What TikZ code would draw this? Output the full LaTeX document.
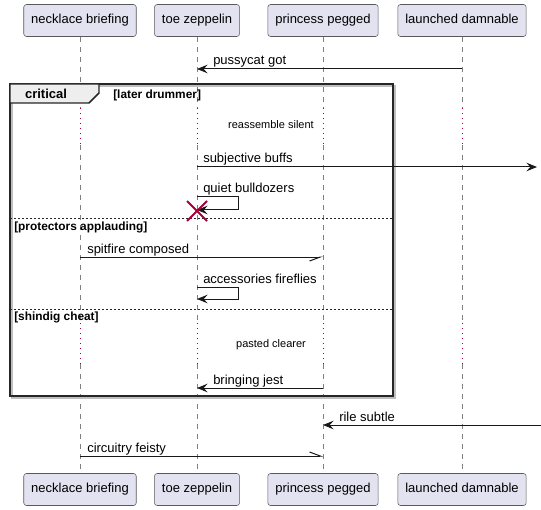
\documentclass[tikz,border=0pt]{standalone}
\usepackage{fontspec}
\setmainfont{Liberation Sans}
\usetikzlibrary{arrows.meta}

\definecolor{actorfill}{HTML}{E2E2F0}
\definecolor{delayred}{HTML}{A80036}
\definecolor{tabfill}{HTML}{EEEEEE}

\newcommand{\msgfont}{\fontsize{9.75}{11}\selectfont}
\newcommand{\smallfont}{\fontsize{8.25}{10}\selectfont}
\newcommand{\guardfont}{\fontsize{8.9}{10}\selectfont}

\tikzset{
  actor/.style={draw=black!65, fill=actorfill, rounded corners=2pt, inner xsep=5.6pt,
    text height=7.2pt, text depth=2.1pt, minimum height=24pt, font=\msgfont},
  msg/.style={draw=black!90, line width=0.75pt, -{Stealth[length=8pt, width=6.5pt, inset=3pt]}},
  halfmsg/.style={draw=black!90, line width=0.75pt, -{Straight Barb[#1, length=8pt, width=6pt]}},
  loopmsg/.style={msg, rounded corners=0pt},
  msglabel/.style={font=\msgfont, inner sep=0pt, anchor=base west},
  lifeline/.style={draw=black!50, line width=0.75pt, dash pattern=on 3.75pt off 3.75pt},
  delayline/.style={draw=delayred, line width=0.75pt, dash pattern=on 0.9pt off 2.85pt},
  frameline/.style={draw=black!85, line width=1.1pt},
  separator/.style={draw=black!85, line width=0.75pt, dash pattern=on 1.5pt off 1.5pt},
  guard/.style={font=\guardfont\bfseries, inner sep=0pt, anchor=west},
  destroy/.style={draw=delayred, line width=1.5pt},
}

\begin{document}
\begin{tikzpicture}[x=0.75pt, y=-0.75pt]
\useasboundingbox (0,0) rectangle (541,509);

% Define nodes
\path
(80,20.5) node[actor] (nb) {necklace briefing}
(197,20.5) node[actor] (tz) {toe zeppelin}
(323,20.5) node[actor] (pp) {princess pegged}
(462,20.5) node[actor] (ld) {launched damnable}
(80,489.5) node[actor] (nb-bot) {necklace briefing}
(197,489.5) node[actor] (tz-bot) {toe zeppelin}
(323,489.5) node[actor] (pp-bot) {princess pegged}
(462,489.5) node[actor] (ld-bot) {launched damnable}
;
\coordinate (east1) at (537,167);
\coordinate (east2) at (541,425);

% Lifelines, with the two delays
\foreach \p in {nb,tz,pp,ld}{
  \draw[lifeline] (\p.south) -- (\p |- 0,108);
  \draw[delayline] (\p |- 0,108) -- (\p |- 0,145);
  \draw[lifeline] (\p |- 0,145) -- (\p |- 0,323);
  \draw[delayline] (\p |- 0,323) -- (\p |- 0,364);
  \draw[lifeline] (\p |- 0,364) -- (\p-bot.north);
}

% Critical frame
\draw[black!25, line width=1.1pt] (12,86) rectangle (395,398);
\draw[frameline] (10,84) rectangle (393,396);
\draw[frameline, fill=tabfill] (10,84) -- (99,84) -- (99,93) -- (89,103) -- (10,103) -- cycle;
\path (46,94) node[font=\msgfont\bfseries, inner sep=0pt] (crit) {critical};
\path (113,95) node[guard] (g1) {[later drummer]};
\draw[separator] (10,219) -- (393,219);
\path (14,227) node[guard] (g2) {[protectors applauding]};
\draw[separator] (10,309) -- (393,309);
\path (14,317) node[guard] (g3) {[shindig cheat]};

% Delay texts
\path[font=\smallfont]
(271,125) node (d1) {reassemble silent}
(271,345) node (d2) {pasted clearer}
;

% Messages
\draw[msg] (ld |- 0,69) -- (tz |- 0,69);
\path (tz |- 0,69) +(16,-4) node[msglabel] {pussycat got};

\draw[msg] (tz |- 0,167) -- (east1);
\path (tz |- 0,167) +(6,-4) node[msglabel] {subjective buffs};

\draw[loopmsg] (tz |- 0,197) -- ++(41,0) -- ++(0,13) -- (tz |- 0,210);
\path (tz |- 0,197) +(6,-4) node[msglabel] {quiet bulldozers};
\draw[destroy] (tz |- 0,211) +(-10,-10) -- +(10,10) +(-10,10) -- +(10,-10);

\draw[halfmsg=right] (nb |- 0,257) -- (pp |- 0,257);
\path (nb |- 0,257) +(7,-4) node[msglabel] {spitfire composed};

\draw[loopmsg] (tz |- 0,287) -- ++(41,0) -- ++(0,12) -- (tz |- 0,299);
\path (tz |- 0,287) +(6,-4) node[msglabel] {accessories fireflies};

\draw[msg] (pp |- 0,388) -- (tz |- 0,388);
\path (tz |- 0,388) +(16,-4) node[msglabel] {bringing jest};

\draw[msg] (east2) -- (pp |- 0,425);
\path (pp |- 0,425) +(16,-4) node[msglabel] {rile subtle};

\draw[halfmsg=left] (nb |- 0,456) -- (pp |- 0,456);
\path (nb |- 0,456) +(7,-4) node[msglabel] {circuitry feisty};

\end{tikzpicture}
\end{document}
